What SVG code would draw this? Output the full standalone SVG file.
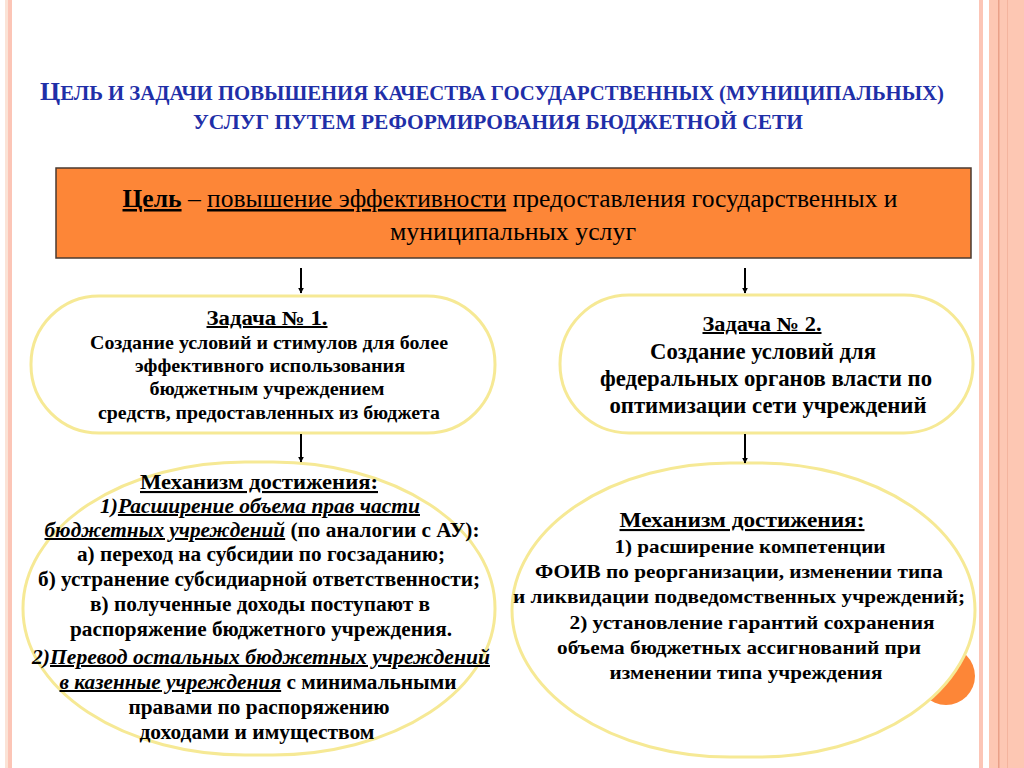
<svg xmlns="http://www.w3.org/2000/svg" width="1024" height="768" viewBox="0 0 1024 768">
<defs>
<marker id="ah" viewBox="0 0 10 10" refX="9" refY="5" markerWidth="6" markerHeight="6" orient="auto" markerUnits="userSpaceOnUse">
<path d="M0,0 L10,5 L0,10 z" fill="#000"/>
</marker>
</defs>
<style>
.t{font-family:'Liberation Serif',serif;fill:#000;text-anchor:middle}
.b{font-weight:bold}
.u{text-decoration:underline}
.i{font-style:italic}
.title{font-family:'Liberation Serif',serif;fill:#1f2fa8;text-anchor:middle;font-weight:bold}
.pill{fill:#fff;stroke:#f6e995;stroke-width:3}
.conn{stroke:#000;stroke-width:2;fill:none;marker-end:url(#ah)}
</style>
<rect width="1024" height="768" fill="#fff"/>
<rect x="5" y="0" width="3" height="768" fill="#fbe3d6"/>
<rect x="8" y="0" width="4" height="768" fill="#fcc5b6"/>
<rect x="979" y="0" width="4" height="768" fill="#fcc5b6"/>
<rect x="983" y="0" width="6" height="768" fill="#fff"/>
<rect x="989" y="0" width="35" height="768" fill="#fdc7b3"/>
<rect x="998" y="0" width="1.5" height="768" fill="#e9a088"/>
<rect x="1007" y="0" width="1" height="768" fill="#f4b49e"/>
<text class="title" x="492" y="100" font-size="20" textLength="904" lengthAdjust="spacingAndGlyphs"><tspan font-size="25">Ц</tspan>ЕЛЬ И ЗАДАЧИ ПОВЫШЕНИЯ КАЧЕСТВА ГОСУДАРСТВЕННЫХ (МУНИЦИПАЛЬНЫХ)</text>
<text class="title" x="498" y="129" font-size="20" textLength="610" lengthAdjust="spacingAndGlyphs">УСЛУГ ПУТЕМ РЕФОРМИРОВАНИЯ  БЮДЖЕТНОЙ СЕТИ</text>
<circle cx="946" cy="676" r="29" fill="#fd8637"/>
<g id="goal">
<rect x="56" y="168" width="915" height="90" fill="#fd8637" stroke="#4a3a30" stroke-width="1.5"/>
<text class="t" x="510" y="207" font-size="25" textLength="775" lengthAdjust="spacingAndGlyphs"><tspan class="b u">Цель</tspan> – <tspan class="u">повышение эффективности</tspan> предоставления государственных и</text>
<text class="t" x="513" y="240" font-size="25" textLength="246" lengthAdjust="spacingAndGlyphs">муниципальных услуг</text>
</g>
<g id="task1">
<rect class="pill" x="31" y="296" width="464" height="137" rx="68" ry="68"/>
<text class="t b u" x="267" y="325" font-size="20" textLength="121" lengthAdjust="spacingAndGlyphs">Задача № 1.</text>
<text class="t b" x="269" y="349" font-size="19.5" textLength="358" lengthAdjust="spacingAndGlyphs">Создание условий и стимулов для более</text>
<text class="t b" x="270" y="372" font-size="19.5" textLength="270" lengthAdjust="spacingAndGlyphs">эффективного использования</text>
<text class="t b" x="267" y="395" font-size="19.5" textLength="235" lengthAdjust="spacingAndGlyphs">бюджетным учреждением</text>
<text class="t b" x="269" y="419" font-size="19.5" textLength="342" lengthAdjust="spacingAndGlyphs">средств, предоставленных из бюджета</text>
</g>
<g id="task2">
<rect class="pill" x="560" y="295" width="413" height="138" rx="69" ry="69"/>
<text class="t b u" x="762" y="331" font-size="20" textLength="119" lengthAdjust="spacingAndGlyphs">Задача № 2.</text>
<text class="t b" x="763" y="359" font-size="23" textLength="226" lengthAdjust="spacingAndGlyphs">Создание условий для</text>
<text class="t b" x="766" y="386" font-size="23" textLength="332" lengthAdjust="spacingAndGlyphs">федеральных органов власти по</text>
<text class="t b" x="768" y="413" font-size="23" textLength="317" lengthAdjust="spacingAndGlyphs">оптимизации сети учреждений</text>
</g>
<g id="mech1">
<rect class="pill" x="23" y="462" width="472" height="293" rx="222" ry="146"/>
<text class="t b u" x="259" y="489" font-size="21" textLength="238" lengthAdjust="spacingAndGlyphs">Механизм достижения:</text>
<text class="t b" x="260" y="513" font-size="20" textLength="320" lengthAdjust="spacingAndGlyphs"><tspan class="i">1)</tspan><tspan class="i u">Расширение объема прав части </tspan></text>
<text class="t b" x="262" y="537" font-size="20" textLength="435" lengthAdjust="spacingAndGlyphs"><tspan class="i u">бюджетных учреждений</tspan> (по аналогии с АУ):</text>
<text class="t b" x="261" y="561" font-size="20" textLength="368" lengthAdjust="spacingAndGlyphs">а) переход на субсидии по госзаданию;</text>
<text class="t b" x="259" y="586" font-size="20" textLength="442" lengthAdjust="spacingAndGlyphs">б) устранение субсидиарной ответственности;</text>
<text class="t b" x="260" y="611" font-size="20" textLength="340" lengthAdjust="spacingAndGlyphs">в) полученные доходы поступают в</text>
<text class="t b" x="261" y="636" font-size="20" textLength="382" lengthAdjust="spacingAndGlyphs">распоряжение бюджетного учреждения.</text>
<text class="t b" x="261" y="664" font-size="20" textLength="458" lengthAdjust="spacingAndGlyphs"><tspan class="i">2)</tspan><tspan class="i u">Перевод остальных бюджетных учреждений </tspan></text>
<text class="t b" x="258" y="689" font-size="20" textLength="397" lengthAdjust="spacingAndGlyphs"><tspan class="i u">в казенные учреждения</tspan> с минимальными</text>
<text class="t b" x="259" y="714" font-size="20" textLength="261" lengthAdjust="spacingAndGlyphs">правами по распоряжению</text>
<text class="t b" x="257" y="739" font-size="20" textLength="235" lengthAdjust="spacingAndGlyphs">доходами и имуществом</text>
</g>
<g id="mech2">
<rect class="pill" x="512" y="463" width="463" height="294" rx="218" ry="147"/>
<text class="t b u" x="742" y="527" font-size="21" textLength="245" lengthAdjust="spacingAndGlyphs">Механизм достижения: </text>
<text class="t b" x="750" y="553" font-size="19.5" textLength="271" lengthAdjust="spacingAndGlyphs">1) расширение компетенции</text>
<text class="t b" x="739" y="578" font-size="19.5" textLength="408" lengthAdjust="spacingAndGlyphs">ФОИВ по реорганизации, изменении типа</text>
<text class="t b" x="739" y="603" font-size="19.5" textLength="452" lengthAdjust="spacingAndGlyphs">и ликвидации подведомственных учреждений;</text>
<text class="t b" x="752" y="629" font-size="19.5" textLength="365" lengthAdjust="spacingAndGlyphs">2) установление гарантий сохранения</text>
<text class="t b" x="739" y="654" font-size="19.5" textLength="364" lengthAdjust="spacingAndGlyphs">объема бюджетных ассигнований при</text>
<text class="t b" x="746" y="679" font-size="19.5" textLength="273" lengthAdjust="spacingAndGlyphs">изменении типа учреждения</text>
</g>
<g id="connectors">
<line class="conn" x1="301" y1="268" x2="301" y2="293"/>
<line class="conn" x1="745" y1="268" x2="745" y2="293"/>
<line class="conn" x1="301" y1="434" x2="301" y2="462"/>
<line class="conn" x1="745" y1="434" x2="745" y2="463"/>
</g>
</svg>
